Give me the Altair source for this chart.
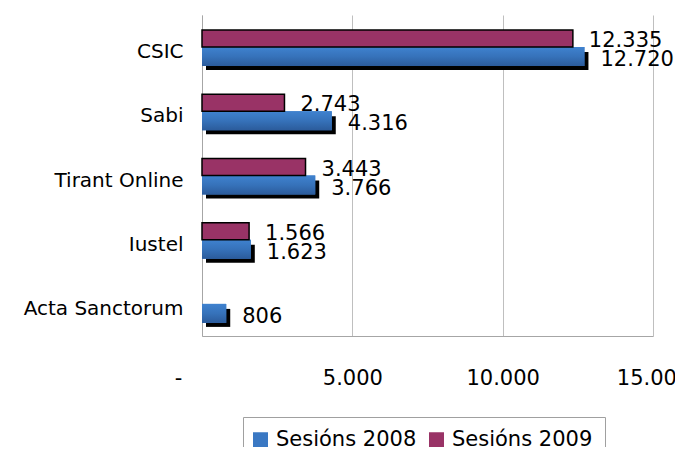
import altair as alt
import pandas as pd

categories = ["CSIC", "Sabi", "Tirant Online", "Iustel", "Acta Sanctorum"]
sessions_2008 = [12720, 4316, 3766, 1623, 806]
sessions_2009 = [12335, 2743, 3443, 1566, None]
series_names = ["Sesións 2008", "Sesións 2009"]
x_ticks = [0, 5000, 10000, 15000]

rows = []
for c, v in zip(categories, sessions_2008):
    rows.append({"cat": c, "serie": series_names[0], "value": v})
for c, v in zip(categories, sessions_2009):
    if v is not None:
        rows.append({"cat": c, "serie": series_names[1], "value": v})
df = pd.DataFrame(rows)
df["label"] = df["value"].apply(lambda v: f"{int(v):,}".replace(",", "."))

FONT = "DejaVu Sans"

x_enc = alt.X(
    "value:Q",
    scale=alt.Scale(domain=[0, 15000], nice=False),
    axis=alt.Axis(
        values=x_ticks,
        title=None,
        grid=True,
        gridColor="#bfbfbf",
        gridWidth=1,
        domainColor="#a6a6a6",
        ticks=False,
        tickSize=0,
        labelPadding=31,
        labelFlush=False,
        labelOverlap=False,
        labelOffset={"condition": {"test": "datum.value == 0", "value": -24}, "value": 0},
        labelFontSize=21,
        labelFont=FONT,
        labelColor="black",
        labelExpr="datum.value == 0 ? '-' : replace(format(datum.value, ','), ',', '.')",
    ),
)
y_enc = alt.Y(
    "cat:N",
    sort=categories,
    scale=alt.Scale(domain=categories),
    axis=alt.Axis(
        title=None,
        ticks=False,
        tickSize=0,
        domainColor="#a6a6a6",
        labelPadding=19,
        labelOffset=5,
        labelFontSize=20,
        labelFont=FONT,
        labelColor="black",
        minExtent=194,
        maxExtent=194,
    ),
)

base = alt.Chart(df)
d08 = base.transform_filter(alt.datum.serie == series_names[0])
d09 = base.transform_filter(alt.datum.serie == series_names[1])

color_scale = alt.Scale(domain=series_names, range=["#3a78c3", "#993366"])

shadow = d08.mark_bar(color="black", height=18, yOffset=14, xOffset=4).encode(x=x_enc, y=y_enc)

bars08 = d08.mark_bar(height=19, yOffset=9.5).encode(
    x=x_enc,
    y=y_enc,
    color=alt.Color(
        "serie:N",
        scale=color_scale,
        legend=alt.Legend(
            title=None,
            orient="none",
            direction="horizontal",
            legendX=41,
            legendY=402,
            labelFontSize=21,
            labelFont=FONT,
            labelColor="black",
            symbolType="square",
            symbolSize=225,
            symbolStrokeWidth=0,
            strokeColor="#a0a0a0",
            padding=12,
            columnPadding=12,
            labelOffset=5,
            symbolOffset=-5,
        ),
    ),
)

grad08 = d08.mark_bar(
    height=19,
    yOffset=9.5,
    color=alt.Gradient(
        gradient="linear",
        stops=[
            alt.GradientStop(color="#3f82cf", offset=0),
            alt.GradientStop(color="#3672ba", offset=0.5),
            alt.GradientStop(color="#2b5b9b", offset=1),
        ],
        x1=0, x2=0, y1=0, y2=1,
    ),
).encode(x=x_enc, y=y_enc)

bars09 = d09.mark_bar(height=17, yOffset=-8.5, stroke="black", strokeWidth=1.5).encode(
    x=x_enc,
    y=y_enc,
    color=alt.Color("serie:N", scale=color_scale, legend=None),
)

text09 = d09.mark_text(
    align="left", baseline="middle", dx=16, yOffset=-6, fontSize=21, font=FONT, color="black"
).encode(x=x_enc, y=y_enc, text="label:N")

text08 = d08.mark_text(
    align="left", baseline="middle", dx=16, yOffset=13, fontSize=21, font=FONT, color="black"
).encode(x=x_enc, y=y_enc, text="label:N")

chart = (
    alt.layer(shadow, bars08, grad08, bars09, text09, text08)
    .properties(
        width=451,
        height=321,
        autosize=alt.AutoSizeParams(type="none"),
        padding={"left": 194, "top": 7, "right": 22, "bottom": 111},
    )
    .configure_view(stroke=None)
    .configure_legend(symbolStrokeColor="black")
)

chart.save("out.html", embed_options={"renderer": "svg", "actions": False})
